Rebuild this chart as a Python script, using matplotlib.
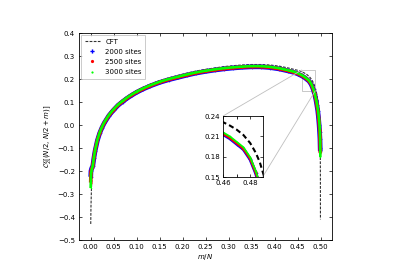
import numpy as np
import matplotlib
matplotlib.use("Agg")
import matplotlib.pyplot as plt
from mpl_toolkits.axes_grid1.inset_locator import mark_inset

# CFT curve
cft_x = [0.0005, 0.001, 0.002, 0.003, 0.005, 0.0075, 0.01, 0.015, 0.02, 0.025,
         0.03, 0.04, 0.05, 0.06, 0.07, 0.08, 0.09, 0.10, 0.115, 0.13,
         0.15, 0.17, 0.19, 0.21, 0.23, 0.25, 0.27, 0.29, 0.31, 0.33,
         0.35, 0.37, 0.39, 0.41, 0.43, 0.44, 0.45, 0.46, 0.465, 0.47,
         0.475, 0.48, 0.484, 0.487, 0.49, 0.492, 0.494, 0.4955, 0.497, 0.498,
         0.4988, 0.4993, 0.4996, 0.4998, 0.4999]
cft_y = [-0.430, -0.357, -0.281, -0.236, -0.180, -0.135, -0.104, -0.059, -0.027, -0.003,
         0.017, 0.049, 0.073, 0.094, 0.110, 0.125, 0.138, 0.150, 0.165, 0.178,
         0.193, 0.205, 0.216, 0.226, 0.235, 0.242, 0.248, 0.254, 0.258, 0.261,
         0.263, 0.263, 0.261, 0.256, 0.248, 0.243, 0.238, 0.231, 0.226, 0.220,
         0.212, 0.200, 0.186, 0.172, 0.152, 0.133, 0.110, 0.087, 0.055, 0.025,
         -0.010, -0.060, -0.130, -0.250, -0.410]

# lattice data (m/N, correlator)
site_x = [0.001, 0.002, 0.003, 0.005, 0.0075, 0.01, 0.015, 0.02, 0.025, 0.03,
          0.04, 0.05, 0.06, 0.07, 0.08, 0.09, 0.10, 0.115, 0.13, 0.15,
          0.17, 0.19, 0.21, 0.23, 0.25, 0.27, 0.29, 0.31, 0.33, 0.35,
          0.37, 0.39, 0.41, 0.43, 0.44, 0.45, 0.46, 0.465, 0.47, 0.475,
          0.48, 0.484, 0.487, 0.49, 0.492, 0.494, 0.4955, 0.497, 0.498, 0.4988,
          0.4993]
green_y = [-0.215, -0.200, -0.190, -0.176, -0.139, -0.109, -0.064, -0.032, -0.008, 0.012,
           0.044, 0.068, 0.089, 0.105, 0.120, 0.133, 0.145, 0.160, 0.173, 0.188,
           0.200, 0.210, 0.220, 0.229, 0.236, 0.242, 0.247, 0.251, 0.254, 0.256,
           0.256, 0.253, 0.247, 0.238, 0.233, 0.226, 0.216, 0.210, 0.202, 0.194,
           0.179, 0.159, 0.140, 0.115, 0.095, 0.072, 0.050, 0.022, -0.005, -0.035,
           -0.070]
red_y = [-0.205, -0.195, -0.188, -0.177, -0.140, -0.110, -0.066, -0.034, -0.010, 0.010,
         0.042, 0.066, 0.087, 0.103, 0.118, 0.131, 0.143, 0.158, 0.171, 0.186,
         0.198, 0.208, 0.218, 0.227, 0.234, 0.240, 0.245, 0.249, 0.252, 0.254,
         0.254, 0.251, 0.245, 0.236, 0.231, 0.224, 0.214, 0.208, 0.200, 0.192,
         0.177, 0.157, 0.138, 0.112, 0.090, 0.066, 0.040, 0.010, -0.020, -0.050,
         -0.090]
blue_y = [-0.200, -0.192, -0.186, -0.178, -0.142, -0.112, -0.067, -0.035, -0.011, 0.009,
          0.041, 0.065, 0.086, 0.102, 0.117, 0.130, 0.142, 0.157, 0.170, 0.185,
          0.197, 0.207, 0.217, 0.226, 0.233, 0.239, 0.244, 0.248, 0.251, 0.253,
          0.253, 0.250, 0.244, 0.235, 0.230, 0.223, 0.213, 0.207, 0.199, 0.191,
          0.176, 0.156, 0.136, 0.110, 0.087, 0.062, 0.035, 0.000, -0.030, -0.060,
          -0.100]
# first and last lattice points
green_ends = ([0.00033, 0.49967], [-0.274, -0.139])
red_ends = ([0.0004, 0.4996], [-0.250, -0.122])
blue_ends = ([0.0005, 0.4995], [-0.225, -0.113])

xticks = [0.00, 0.05, 0.10, 0.15, 0.20, 0.25, 0.30, 0.35, 0.40, 0.45, 0.50]
yticks = [-0.5, -0.4, -0.3, -0.2, -0.1, 0.0, 0.1, 0.2, 0.3, 0.4]

plt.rcParams['font.size'] = 5
plt.rcParams['axes.linewidth'] = 0.6
plt.rcParams['xtick.major.width'] = 0.5
plt.rcParams['ytick.major.width'] = 0.5

fig = plt.figure(figsize=(4, 2.75), dpi=100)
ax = fig.add_axes([0.1975, 0.127, 0.6325, 0.753])


def full(ends, xs, ys):
    return [ends[0][0]] + xs + [ends[0][1]], [ends[1][0]] + ys + [ends[1][1]]


# label, colour, marker, marker size, line width, legend marker size
series = [("2000 sites", "blue", "P", 2.6, 3.4, 3.0, blue_ends, blue_y),
          ("2500 sites", "red", "o", 1.6, 2.6, 2.3, red_ends, red_y),
          ("3000 sites", "lime", "o", 1.1, 1.9, 1.6, green_ends, green_y)]


def draw(a, lw_scale, ms_scale, legend=True):
    for lab, col, mk, ms, lw, lms, ends, ys in series:
        xx, yy = full(ends, site_x, ys)
        a.plot(xx, yy, "-", color=col, lw=lw * lw_scale, zorder=2, solid_capstyle="butt")
        a.plot(xx, yy, mk, color=col, ms=ms * ms_scale, mew=0, ls="none", zorder=2)
        if legend:
            a.plot([], [], mk, color=col, ms=lms, mew=0, ls="none", label=lab)


ax.plot(cft_x, cft_y, "--", color="0.2", lw=0.8, dashes=(2.5, 1.2), label="CFT", zorder=1)
draw(ax, 1.0, 1.0)

ax.set_xlim(-0.025, 0.525)
ax.set_ylim(-0.5, 0.4)
ax.set_xticks(xticks)
ax.set_yticks(yticks)
ax.set_xticklabels(["%.2f" % t for t in xticks])
ax.set_yticklabels([("%.1f" % t).replace("-", "\u2212") for t in yticks])
ax.tick_params(direction="in", top=True, right=True, length=2.5, pad=3)
ax.set_xlabel("$m/N$", labelpad=1)
ax.set_ylabel(r"$\mathcal{C}_2^x[(N/2,\, N/2+m)]$", labelpad=2)

leg = ax.legend(loc="upper left", numpoints=1, handlelength=2.2, borderpad=0.5,
                labelspacing=0.6, fontsize=5, fancybox=False, edgecolor="0.7",
                borderaxespad=0.3)
leg.get_frame().set_linewidth(0.6)

# inset
axins = fig.add_axes([0.5575, 0.356, 0.0988, 0.222])
axins.plot(cft_x, cft_y, "--", color="k", lw=1.5, dashes=(2.5, 1.5), zorder=4)
draw(axins, 0.7, 1.0, legend=False)
axins.set_xlim(0.46, 0.489)
axins.set_ylim(0.15, 0.24)
axins.set_xticks([0.46, 0.48])
axins.set_xticks([0.47], minor=True)
axins.set_yticks([0.15, 0.18, 0.21, 0.24])
axins.set_xticklabels(["0.46", "0.48"])
axins.set_yticklabels(["0.15", "0.18", "0.21", "0.24"])
axins.tick_params(which="both", direction="in", top=True, right=True, length=2, pad=2, labelsize=5)
mark_inset(ax, axins, loc1=2, loc2=4, fc="none", ec="0.75", lw=0.6)

fig.savefig("out.png", dpi=100)
